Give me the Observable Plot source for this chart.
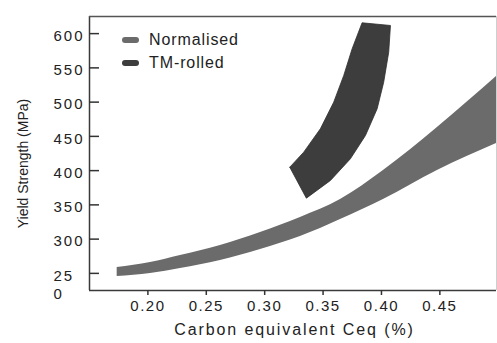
<!DOCTYPE html>
<html>
<head>
<meta charset="utf-8">
<script src="https://cdn.jsdelivr.net/npm/d3@7"></script>
<script src="https://cdn.jsdelivr.net/npm/@observablehq/plot@0.6"></script>
<style>
  html, body { margin: 0; padding: 0; background: #fff; }
  #wrap { position: relative; width: 497px; height: 343px; font-family: "Liberation Sans", Arial, sans-serif; }
  g[aria-label="x-axis tick label"] { letter-spacing: 1.5px; }
  g[aria-label="y-axis tick label"] { letter-spacing: 2px; }
  .legend { position: absolute; left: 122px; top: 29px; color: #222; font-size: 16px; letter-spacing: 0.9px; }
  .legend .item { display: flex; align-items: center; height: 22.5px; }
  .legend .sw { display: inline-block; width: 17px; height: 6px; border-radius: 3px; margin-right: 10px; }
</style>
</head>
<body>
<div id="wrap"></div>
<script>
// ---- data ----
const xTicks = [0.20, 0.25, 0.30, 0.35, 0.40, 0.45];
const yTicks = [250, 300, 350, 400, 450, 500, 550, 600];
const xDomain = [0.15, 0.4985];
const yDomain = [225, 625];
const xTitle = "Carbon equivalent Ceq (%)";
const yTitle = "Yield Strength (MPa)";
const seriesNames = ["Normalised", "TM-rolled"];
const seriesColors = ["#6b6b6b", "#3d3d3d"];

// Normalised band: x, lower and upper bounds
const normX     = [0.1737, 0.2022, 0.2279, 0.2621, 0.2964, 0.3306, 0.3649, 0.4017, 0.4479, 0.4985];
const normUpper = [258.6, 265.9, 276.1, 290.7, 309.7, 331.6, 357.8, 400.2, 463.0, 537.4];
const normLower = [245.4, 249.8, 257.1, 268.8, 284.9, 303.8, 328.7, 357.9, 400.2, 439.6];

// TM-rolled band: left and right edges, bottom to top
const tmLeftX  = [0.3215, 0.3334, 0.3477, 0.3591, 0.3677, 0.3749, 0.3834];
const tmLeftY  = [405.0, 426.9, 461.1, 499.9, 538.9, 577.9, 615.8];
const tmRightX = [0.3357, 0.3563, 0.3734, 0.3863, 0.3963, 0.4019, 0.4062, 0.4077];
const tmRightY = [359.8, 385.6, 417.3, 451.3, 490.3, 529.1, 572.9, 611.9];

// ---- build tables ----
const normData = normX.map((x, i) => ({x, lo: normLower[i], hi: normUpper[i]}));
const tmRing = [
  ...tmLeftX.map((x, i) => ({x, y: tmLeftY[i]})),
  ...tmRightX.map((x, i) => ({x, y: tmRightY[i]})).reverse()
];
tmRing.push(tmRing[0]);

const chart = Plot.plot({
  width: 497,
  height: 343,
  marginLeft: 89,
  marginRight: 1,
  marginTop: 16,
  marginBottom: 53,
  style: {fontFamily: "'Liberation Sans', Arial, sans-serif", fontSize: "15px", color: "#222", background: "#fff"},
  x: {domain: xDomain},
  y: {domain: yDomain},
  marks: [
    Plot.areaY(normData, {x: "x", y1: "lo", y2: "hi", curve: "monotone-x", fill: seriesColors[0]}),
    Plot.line(tmRing, {x: "x", y: "y", curve: "linear", fill: seriesColors[1], stroke: "#2f2f2f", strokeWidth: 0.8}),
    // frame lines
    Plot.ruleX([xDomain[0]], {stroke: "#3a3a3a", strokeWidth: 1.5}),
    Plot.ruleX([xDomain[1]], {stroke: "#cfcfcf", strokeWidth: 1}),
    Plot.ruleY([yDomain[1]], {stroke: "#555", strokeWidth: 1.5}),
    Plot.ruleY([yDomain[0]], {stroke: "#3a3a3a", strokeWidth: 1.5}),
    // axes
    Plot.axisX(xTicks, {tickSize: 5, tickPadding: 5, tickFormat: d3.format(".2f"), label: null, stroke: "#333", strokeWidth: 1.5, fontSize: 15}),
    Plot.axisY(yTicks, {tickSize: 10, dx: 10, tickFormat: () => "", label: null, stroke: "#333", strokeWidth: 1.5}),
    Plot.axisY(yTicks, {tickSize: 0, tickPadding: 0, dx: -36, textAnchor: "start", lineAnchor: "top", dy: -5.5, lineHeight: 1.2,
      tickFormat: d => d === 250 ? "25\n0" : String(d), label: null, fontSize: 15}),
    // axis titles
    Plot.text([xTitle], {frameAnchor: "bottom", textAnchor: "middle", dx: 1.5, dy: 44, fontSize: 16, fill: "#222"}),
    Plot.text([yTitle], {frameAnchor: "left", textAnchor: "middle", rotate: -90, dx: -66, dy: 10, fontSize: 14, fill: "#222"})
  ]
});

const wrap = document.getElementById("wrap");
wrap.appendChild(chart);
chart.querySelectorAll("text").forEach(t => {
  if (t.textContent === xTitle) t.style.letterSpacing = "1.9px";
});

const legend = document.createElement("div");
legend.className = "legend";
seriesNames.forEach((name, i) => {
  const item = document.createElement("div");
  item.className = "item";
  const sw = document.createElement("span");
  sw.className = "sw";
  sw.style.background = seriesColors[i];
  const lab = document.createElement("span");
  lab.textContent = name;
  item.appendChild(sw);
  item.appendChild(lab);
  legend.appendChild(item);
});
wrap.appendChild(legend);
</script>
</body>
</html>
